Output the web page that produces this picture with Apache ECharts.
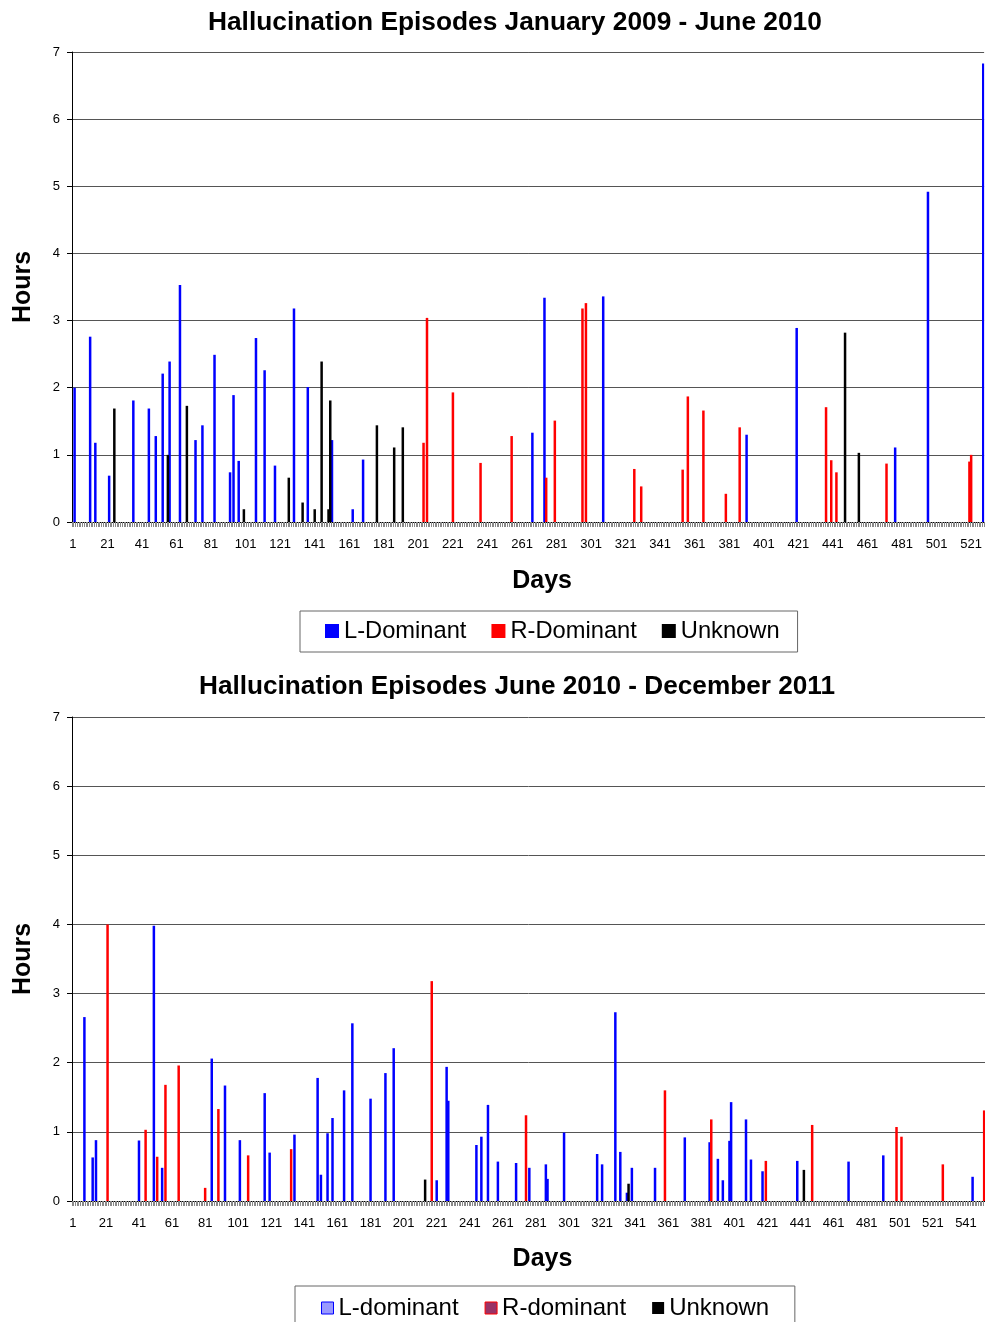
<!DOCTYPE html>
<html>
<head>
<meta charset="utf-8">
<script src="https://cdn.jsdelivr.net/npm/echarts@6/dist/echarts.min.js"></script>
<style>
html,body{margin:0;padding:0;background:#fff;}
#c{width:985px;height:1322px;}
</style>
</head>
<body>
<div id="c"></div>
<script>
// ---- Data ----
const topDayCount = 528;
const botDayCount = 552;

const topLDays  = [2,11,14,22,36,45,49,53,57,63,72,76,83,92,94,97,107,112,118,129,137,151,163,169,267,274,308,391,420,477,496,528];
const topLHours = [2.0,2.76,1.18,0.69,1.81,1.69,1.28,2.21,2.39,3.53,1.22,1.44,2.49,0.74,1.89,0.91,2.74,2.26,0.84,3.18,2.01,1.22,0.19,0.93,1.33,3.34,3.36,1.30,2.89,1.11,4.92,6.83];

const topRDays  = [204,206,221,237,255,275,280,296,298,326,330,354,357,366,379,387,437,440,443,472,520,521];
const topRHours = [1.18,3.04,1.93,0.88,1.28,0.66,1.51,3.18,3.26,0.79,0.53,0.78,1.87,1.66,0.42,1.41,1.71,0.92,0.74,0.87,0.90,1.0];

const topUDays  = [25,56,67,100,126,134,141,145,149,150,177,187,192,448,456];
const topUHours = [1.69,1.0,1.73,0.19,0.66,0.29,0.19,2.39,0.19,1.81,1.44,1.11,1.41,2.82,1.03];

const botLDays  = [8,13,15,41,50,55,85,93,102,117,120,135,149,151,155,158,165,170,181,190,195,221,227,228,245,248,252,258,269,277,287,288,298,318,321,329,332,336,339,353,371,386,391,394,398,399,408,411,418,439,470,491,545];
const botLHours = [2.66,0.63,0.88,0.875,3.98,0.48,2.06,1.67,0.88,1.56,0.70,0.96,1.78,0.38,0.98,1.20,1.60,2.57,1.48,1.85,2.21,0.30,1.94,1.45,0.81,0.93,1.39,0.57,0.55,0.48,0.53,0.32,0.99,0.68,0.53,2.73,0.71,0.12,0.48,0.48,0.92,0.85,0.61,0.30,0.87,1.43,1.18,0.60,0.43,0.58,0.57,0.66,0.35];

const botRDays  = [22,45,52,57,65,81,89,107,133,218,275,359,387,420,448,499,502,527,552];
const botRHours = [4.0,1.03,0.64,1.68,1.96,0.19,1.33,0.66,0.75,3.18,1.24,1.60,1.18,0.58,1.10,1.07,0.93,0.53,1.31];

const botUDays  = [214,337,443];
const botUHours = [0.31,0.25,0.45];

const yTicks = [0,1,2,3,4,5,6,7];

// ---- Build ----
function cats(n){ const a=[]; for(let i=1;i<=n;i++) a.push(String(i)); return a; }
function fill(n, days, vals){
  const a = new Array(n).fill(null);
  days.forEach((d,i)=>{ a[d-1] = vals[i]; });
  return a;
}
const FF = 'Liberation Sans, Arial, sans-serif';
const BLUE='#0000ff', RED='#ff0000', BLACK='#000000';

function xAxis(gi, n, gap){
  return {
    type:'category', gridIndex:gi, data:cats(n), boundaryGap:true,
    name:'Days', nameLocation:'middle', nameGap:gap,
    nameTextStyle:{fontFamily:FF, fontSize:25, fontWeight:'bold', color:'#000', padding:[0,0,0,28]},
    axisLine:{lineStyle:{color:'#000', width:1}},
    axisTick:{show:true, interval:0, length:5, lineStyle:{color:'#888', width:1}},
    axisLabel:{interval:19, fontFamily:FF, fontSize:13, color:'#000', margin:16},
    splitLine:{show:false}
  };
}
function yAxis(gi){
  return {
    type:'value', gridIndex:gi, min:yTicks[0], max:yTicks[yTicks.length-1], interval:1,
    name:'Hours', nameLocation:'middle', nameGap:36, nameRotate:90,
    nameTextStyle:{fontFamily:FF, fontSize:25, fontWeight:'bold', color:'#000'},
    axisLine:{show:true, lineStyle:{color:'#000', width:1}},
    axisTick:{show:true, length:5, lineStyle:{color:'#000'}},
    axisLabel:{fontFamily:FF, fontSize:13, color:'#000', margin:12},
    splitLine:{show:true, lineStyle:{color:'#555', width:1}}
  };
}
function bar(name, gi, data, color){
  return {
    type:'bar', name:name, xAxisIndex:gi, yAxisIndex:gi, data:data,
    barWidth:2.5, barGap:'-100%', itemStyle:{color:color}, silent:true, animation:false
  };
}

const option = {
  backgroundColor:'#fff',
  animation:false,
  title:[
    {text:'Hallucination Episodes January 2009 - June 2010', left:208, top:10, padding:0,
     textStyle:{fontFamily:FF, fontSize:26.3, fontWeight:'bold', color:'#000'}},
    {text:'Hallucination Episodes June 2010 - December 2011', left:199, top:674, padding:0,
     textStyle:{fontFamily:FF, fontSize:26.2, fontWeight:'bold', color:'#000'}}
  ],
  grid:[
    {left:72, top:52, width:915, height:470, containLabel:false},
    {left:72, top:717, width:915, height:484, containLabel:false}
  ],
  xAxis:[xAxis(0, topDayCount, 47), xAxis(1, botDayCount, 46)],
  yAxis:[yAxis(0), yAxis(1)],
  legend:[
    {left:300, top:611, orient:'horizontal', icon:'rect', itemWidth:14, itemHeight:14, itemGap:25,
     padding:[8,18,9,25], borderColor:'#666', borderWidth:1, selectedMode:false,
     textStyle:{fontFamily:FF, fontSize:23.7, color:'#000'},
     data:['L-Dominant','R-Dominant','Unknown']},
    {left:295, top:1286, orient:'horizontal', icon:'rect', itemWidth:12, itemHeight:12, itemGap:26,
     padding:[10,19,10,26], borderColor:'#666', borderWidth:1, selectedMode:false,
     textStyle:{fontFamily:FF, fontSize:24, color:'#000'},
     data:[
       {name:'L-dominant', itemStyle:{color:'#9999ff', borderColor:'#0000ff', borderWidth:1}},
       {name:'R-dominant', itemStyle:{color:'#993366', borderColor:'#ff0000', borderWidth:1}},
       {name:'Unknown ', itemStyle:{color:'#000'}}
     ]}
  ],
  series:[
    bar('L-Dominant', 0, fill(topDayCount, topLDays, topLHours), BLUE),
    bar('R-Dominant', 0, fill(topDayCount, topRDays, topRHours), RED),
    bar('Unknown', 0, fill(topDayCount, topUDays, topUHours), BLACK),
    bar('L-dominant', 1, fill(botDayCount, botLDays, botLHours), BLUE),
    bar('R-dominant', 1, fill(botDayCount, botRDays, botRHours), RED),
    bar('Unknown ', 1, fill(botDayCount, botUDays, botUHours), BLACK)
  ]
};

const chart = echarts.init(document.getElementById('c'), null, {renderer:'canvas'});
chart.setOption(option);
</script>
</body>
</html>
